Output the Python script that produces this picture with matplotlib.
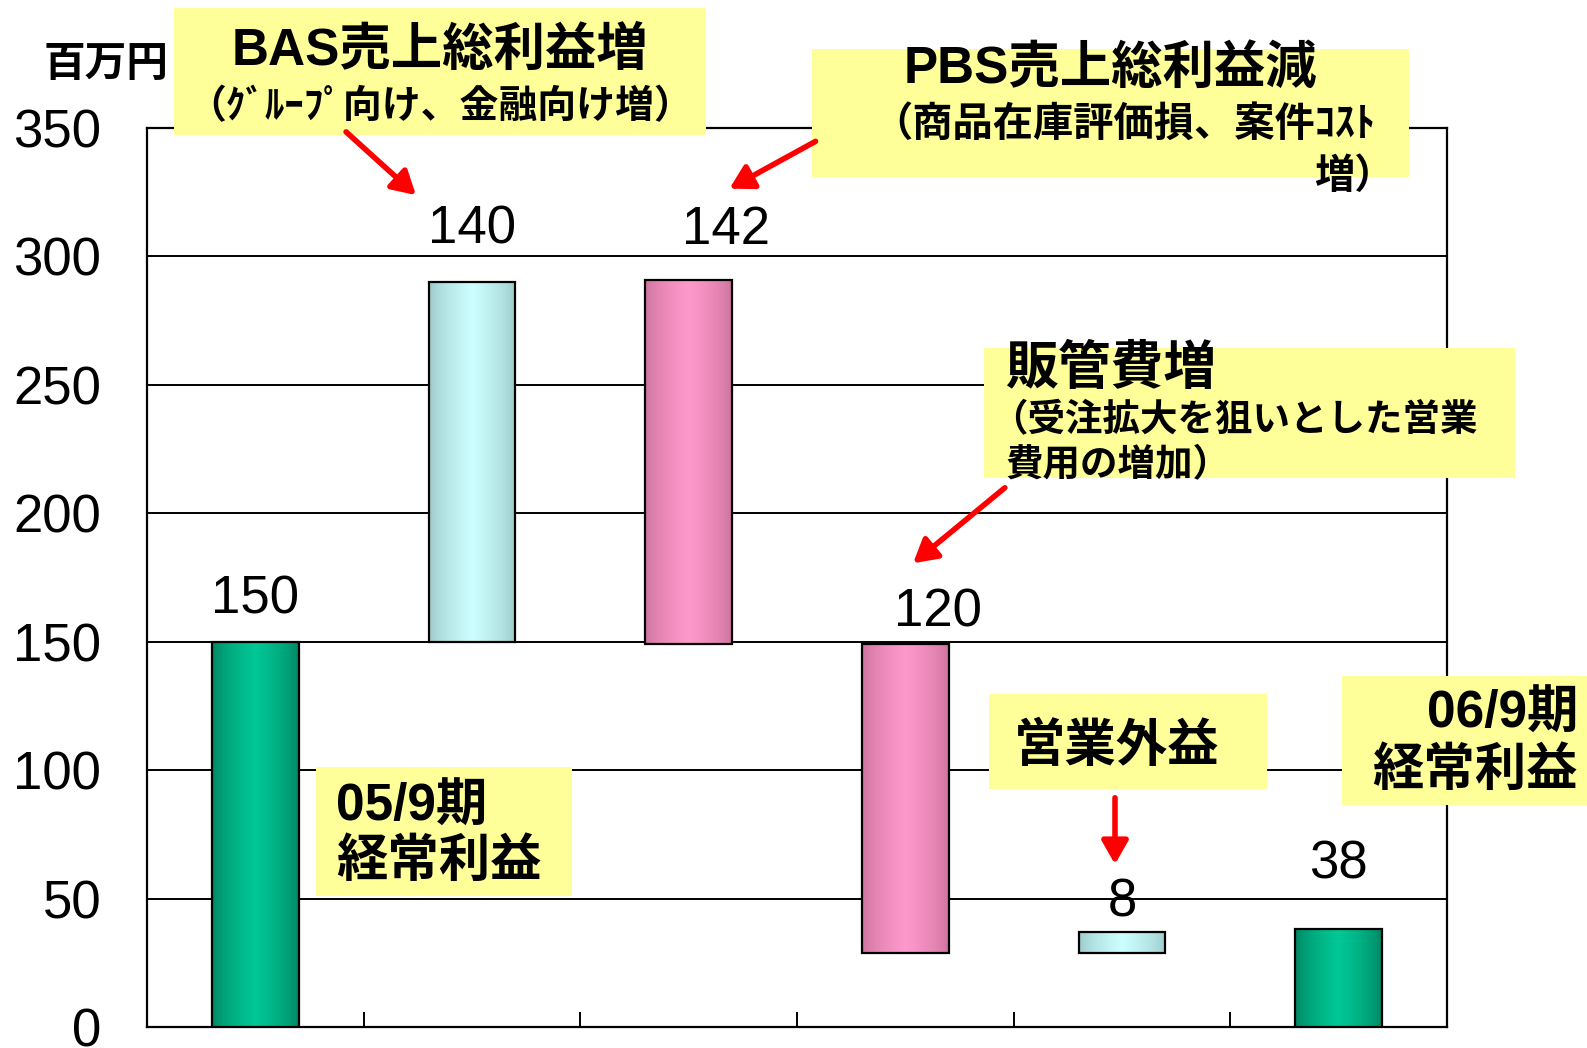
import matplotlib
matplotlib.use("Agg")
import matplotlib.pyplot as plt
from matplotlib.patches import Rectangle, FancyArrowPatch
from matplotlib.colors import to_rgb
import numpy as np

plt.rcParams['font.family'] = ['Liberation Sans', 'Noto Sans CJK JP', 'DejaVu Sans']

# ---- data ----
categories = ['05/9期経常利益', 'BAS売上総利益増', 'PBS売上総利益減', '販管費増', '営業外益', '06/9期経常利益']
bar_bottom = [0, 150, 149, 29, 29, 0]
bar_top = [150, 290, 291, 149, 37, 38]
value_labels = ['150', '140', '142', '120', '8', '38']
bar_kind = ['total', 'up', 'down', 'down', 'up', 'total']
y_ticks = [0, 50, 100, 150, 200, 250, 300, 350]

gradients = {
    'total': ('#00805E', '#00C896'),
    'up': ('#98C4C4', '#CCFFFF'),
    'down': ('#C8709A', '#FF99CC'),
}

W, H = 1587, 1048
fig = plt.figure(figsize=(W / 100, H / 100), dpi=100)
ax = fig.add_axes([147 / W, 1 - 1027 / H, (1447 - 147) / W, (1027 - 128) / H])

x = np.arange(len(categories))
heights = [t - b for t, b in zip(bar_top, bar_bottom)]
bars = ax.bar(x, heights, bottom=bar_bottom, width=0.4, facecolor='none',
              edgecolor='black', linewidth=1.6, zorder=4)

# gradient fill
t = np.linspace(0, 1, 200)
prof = np.clip(1 - np.abs(t - 0.5) / 0.5, 0, 1) ** 0.6
for b, kind in zip(bars, bar_kind):
    edge, center = (np.array(to_rgb(c)) for c in gradients[kind])
    img = edge[None, :] * (1 - prof[:, None]) + center[None, :] * prof[:, None]
    img = img[None, :, :]
    x0, y0 = b.get_x(), b.get_y()
    im = ax.imshow(img, extent=[x0, x0 + b.get_width(), y0, y0 + b.get_height()],
                   aspect='auto', zorder=3, interpolation='bilinear')
    im.set_clip_path(b)

ax.set_xlim(-0.5, len(categories) - 0.5)
ax.set_ylim(0, 350)
ax.set_yticks(y_ticks)
ax.set_yticklabels([str(v) for v in y_ticks], fontsize=38)
ax.tick_params(axis='y', length=0, pad=33)
ax.set_xticks(np.arange(0.5, len(categories) - 0.5, 1.0))
ax.set_xticklabels([])
ax.tick_params(axis='x', direction='in', length=11, width=1.4, color='black')
ax.yaxis.grid(True, color='black', linewidth=1.4, zorder=1)
ax.set_axisbelow(True)
for s in ax.spines.values():
    s.set_linewidth(1.6)
    s.set_color('black')

# value labels
label_pos = [(0.0, 161), (1.0, 305), (2.17, 305), (3.15, 156), (4.0, 43), (5.0, 58)]
for (lx, ly), txt in zip(label_pos, value_labels):
    ax.text(lx, ly, txt, fontsize=38, ha='center', va='baseline', zorder=6)

# ---- annotations in figure pixels (top-left origin) ----
def fx(px):
    return px / W

def fy(py):
    return 1 - py / H

YELLOW = '#FFFF99'

def box(x0, y0, x1, y1):
    r = Rectangle((fx(x0), fy(y1)), (x1 - x0) / W, (y1 - y0) / H,
                  transform=fig.transFigure, facecolor=YELLOW, edgecolor='none', zorder=7)
    fig.add_artist(r)

def ftext(px, py, s, size, ha='left', weight='bold'):
    fig.text(fx(px), fy(py), s, fontsize=size, ha=ha, va='center',
             fontweight=weight, zorder=9)

def arrow(x0, y0, x1, y1):
    a = FancyArrowPatch((fx(x0), fy(y0)), (fx(x1), fy(y1)), transform=fig.transFigure,
                        arrowstyle='-|>,head_length=14,head_width=8', mutation_scale=1,
                        color='#FF0000', linewidth=4, zorder=8)
    fig.add_artist(a)

ftext(106, 65, '百万円', 30, ha='center')

box(174, 8, 706, 135)
ftext(440, 51, 'BAS売上総利益増', 37, ha='center')
ftext(440, 107, '（ｸﾞﾙｰﾌﾟ向け、金融向け増）', 28, ha='center')
arrow(344, 130, 418, 197)

box(812, 49, 1409, 177)
ftext(1110, 69, 'PBS売上総利益減', 37, ha='center')
ftext(872, 124, '（商品在庫評価損、案件ｺｽﾄ', 29)
ftext(1395, 177, '増）', 29, ha='right')
arrow(818, 140, 727, 190)

box(984, 348, 1515, 478)
ftext(1005, 370, '販管費増', 38)
ftext(990, 421, '（受注拡大を狙いとした営業', 27)
ftext(1005, 466, '費用の増加）', 27)
arrow(1007, 486, 911, 565)

box(316, 767, 572, 896)
ftext(336, 807, '05/9期', 37)
ftext(336, 862, '経常利益', 37)

box(989, 694, 1267, 789)
ftext(1117, 747, '営業外益', 37, ha='center')
arrow(1115, 795, 1115, 867)

box(1342, 676, 1587, 805)
ftext(1578, 714, '06/9期', 37, ha='right')
ftext(1578, 771, '経常利益', 37, ha='right')

fig.savefig('out.png', dpi=100)
